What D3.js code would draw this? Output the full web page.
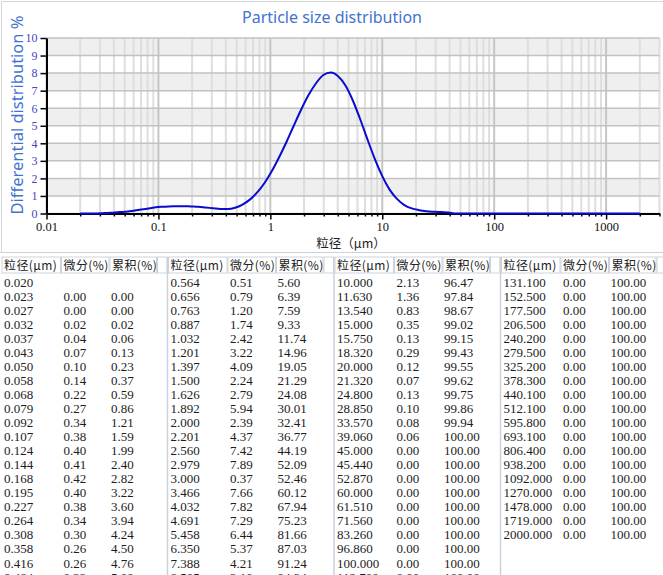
<!DOCTYPE html>
<html>
<head>
<meta charset="utf-8">
<script src="https://cdn.jsdelivr.net/npm/d3@7"></script>
<style>
    body { margin: 0; background: #fff; }
    svg { display: block; }
    .serif { font-family: 'Liberation Serif', 'DejaVu Serif', serif; }
    .cjk { font-family: 'Noto Sans CJK SC', 'Noto Sans', sans-serif; }
    .sans { font-family: 'Noto Sans', 'Open Sans', sans-serif; }
</style>
</head>
<body>
<svg id="chart" width="663" height="575"></svg>
<script>
// curve: standard size classes and their differential %
var curveSize = [0.020, 0.023, 0.027, 0.032, 0.037, 0.043, 0.050, 0.058, 0.068, 0.079,
    0.092, 0.107, 0.124, 0.144, 0.168, 0.195, 0.227, 0.264, 0.308, 0.358,
    0.416, 0.484, 0.564, 0.656, 0.763, 0.887, 1.032, 1.201, 1.397, 1.626,
    1.892, 2.201, 2.560, 2.979, 3.466, 4.032, 4.691, 5.458, 6.350, 7.388,
    8.595, 10.000, 11.630, 13.540, 15.750, 18.320, 21.320, 24.800, 28.850, 33.570,
    39.060, 45.440, 52.870, 61.510, 71.560, 83.260, 96.860, 112.700, 131.100, 152.500,
    177.500, 206.500, 240.200, 279.500, 325.200, 378.300, 440.100, 512.100, 595.800, 693.100,
    806.400, 938.200, 1092, 1270, 1478, 1719, 2000];
var curveDiff = [0, 0, 0, 0.02, 0.04, 0.07, 0.10, 0.14, 0.22, 0.27,
    0.34, 0.38, 0.40, 0.41, 0.42, 0.40, 0.38, 0.34, 0.30, 0.26,
    0.26, 0.33, 0.51, 0.79, 1.20, 1.74, 2.42, 3.22, 4.09, 5.03,
    5.94, 6.76, 7.42, 7.89, 8.03, 7.82, 7.29, 6.44, 5.37, 4.21,
    3.10, 2.13, 1.36, 0.83, 0.48, 0.29, 0.19, 0.13, 0.10, 0.08,
    0.06, 0, 0, 0, 0, 0, 0, 0, 0, 0,
    0, 0, 0, 0, 0, 0, 0, 0, 0, 0,
    0, 0, 0, 0, 0, 0, 0];

var xTicks = [0.01, 0.1, 1, 10, 100, 1000];
var xTickLabels = ['0.01', '0.1', '1', '10', '100', '1000'];
var yTicks = [0, 1, 2, 3, 4, 5, 6, 7, 8, 9, 10];
var headers = ['粒径(μm)', '微分(%)', '累积(%)'];

// table rows
var tableSize = [0.020, 0.023, 0.027, 0.032, 0.037, 0.043, 0.050, 0.058, 0.068, 0.079,
    0.092, 0.107, 0.124, 0.144, 0.168, 0.195, 0.227, 0.264, 0.308, 0.358, 0.416, 0.484,
    0.564, 0.656, 0.763, 0.887, 1.032, 1.201, 1.397, 1.500, 1.626, 1.892,
    2.000, 2.201, 2.560, 2.979, 3.000, 3.466, 4.032, 4.691, 5.458, 6.350, 7.388, 8.595,
    10.000, 11.630, 13.540, 15.000, 15.750, 18.320, 20.000, 21.320, 24.800, 28.850,
    33.570, 39.060, 45.000, 45.440, 52.870, 60.000, 61.510, 71.560, 83.260, 96.860, 100.000, 112.700,
    131.100, 152.500, 177.500, 206.500, 240.200, 279.500, 325.200, 378.300, 440.100, 512.100,
    595.800, 693.100, 806.400, 938.200, 1092.000, 1270.000, 1478.000, 1719.000, 2000.000];
var tableDiff = [null, 0.00, 0.00, 0.02, 0.04, 0.07, 0.10, 0.14, 0.22, 0.27,
    0.34, 0.38, 0.40, 0.41, 0.42, 0.40, 0.38, 0.34, 0.30, 0.26, 0.26, 0.33,
    0.51, 0.79, 1.20, 1.74, 2.42, 3.22, 4.09, 2.24, 2.79, 5.94,
    2.39, 4.37, 7.42, 7.89, 0.37, 7.66, 7.82, 7.29, 6.44, 5.37, 4.21, 3.10,
    2.13, 1.36, 0.83, 0.35, 0.13, 0.29, 0.12, 0.07, 0.13, 0.10,
    0.08, 0.06, 0.00, 0.00, 0.00, 0.00, 0.00, 0.00, 0.00, 0.00, 0.00, 0.00,
    0.00, 0.00, 0.00, 0.00, 0.00, 0.00, 0.00, 0.00, 0.00, 0.00,
    0.00, 0.00, 0.00, 0.00, 0.00, 0.00, 0.00, 0.00, 0.00];
var tableCum = [null, 0.00, 0.00, 0.02, 0.06, 0.13, 0.23, 0.37, 0.59, 0.86,
    1.21, 1.59, 1.99, 2.40, 2.82, 3.22, 3.60, 3.94, 4.24, 4.50, 4.76, 5.09,
    5.60, 6.39, 7.59, 9.33, 11.74, 14.96, 19.05, 21.29, 24.08, 30.01,
    32.41, 36.77, 44.19, 52.09, 52.46, 60.12, 67.94, 75.23, 81.66, 87.03, 91.24, 94.34,
    96.47, 97.84, 98.67, 99.02, 99.15, 99.43, 99.55, 99.62, 99.75, 99.86,
    99.94, 100.00, 100.00, 100.00, 100.00, 100.00, 100.00, 100.00, 100.00, 100.00, 100.00, 100.00,
    100.00, 100.00, 100.00, 100.00, 100.00, 100.00, 100.00, 100.00, 100.00, 100.00,
    100.00, 100.00, 100.00, 100.00, 100.00, 100.00, 100.00, 100.00, 100.00];
var rowsPerGroup = 22;

(function() {
    var svg = d3.select('#chart');
    var blue = '#3f73cf';

    var x = d3.scaleLog().domain([0.01, 3000]).range([46.5, 659.5]);
    var y = d3.scaleLinear().domain([0, 10]).range([213.5, 38]);

    // panel frame
    svg.append('path')
        .attr('d', 'M1.5,252 V1.5 H663')
        .attr('fill', 'none')
        .attr('stroke', '#d6d6d6');

    // title
    svg.append('text')
        .attr('class', 'sans')
        .attr('x', 332).attr('y', 23)
        .attr('text-anchor', 'middle')
        .style('font-size', '16px')
        .attr('fill', blue)
        .text('Particle size distribution');

    // alternating bands
    var plot = svg.append('g');
    plot.selectAll('rect.band')
        .data(yTicks.filter(function(d) { return d % 2 === 1; }))
        .enter().append('rect')
        .attr('class', 'band')
        .attr('x', x.range()[0])
        .attr('width', x.range()[1] - x.range()[0])
        .attr('y', function(d) { return y(d + 1); })
        .attr('height', function(d) { return y(d) - y(d + 1); })
        .attr('fill', '#efefef');

    var minor = x.ticks();
    function isMajor(d) {
        return Math.abs(Math.log10(d) - Math.round(Math.log10(d))) < 1e-6;
    }

    plot.selectAll('line.vgrid')
        .data(minor)
        .enter().append('line')
        .attr('class', 'vgrid')
        .attr('x1', function(d) { return x(d); })
        .attr('x2', function(d) { return x(d); })
        .attr('y1', y(10)).attr('y2', y(0))
        .attr('stroke', function(d) { return isMajor(d) ? '#c6c6c6' : '#dedede'; })
        .attr('stroke-width', 2);

    plot.selectAll('line.hgrid')
        .data(yTicks)
        .enter().append('line')
        .attr('class', 'hgrid')
        .attr('x1', x.range()[0]).attr('x2', x.range()[1])
        .attr('y1', function(d) { return y(d); })
        .attr('y2', function(d) { return y(d); })
        .attr('stroke', '#c2c2c2')
        .attr('stroke-width', 1.5);

    // y axis
    var yAxis = svg.append('g')
        .attr('transform', 'translate(' + x.range()[0] + ',0)')
        .call(d3.axisLeft(y).tickValues(yTicks).tickSize(6).tickSizeOuter(0).tickPadding(3));
    yAxis.attr('font-family', null).attr('font-size', null);
    yAxis.select('.domain').attr('stroke', '#000').attr('stroke-width', 2);
    yAxis.selectAll('.tick line').attr('stroke', '#000').attr('stroke-width', 1.5);
    yAxis.selectAll('.tick text')
        .attr('class', 'serif')
        .style('font-size', '12px')
        .attr('fill', '#4545c4');

    // x axis
    var xAxis = svg.append('g')
        .attr('transform', 'translate(0,' + y(0) + ')')
        .call(d3.axisBottom(x).tickValues(minor).tickSize(3).tickSizeOuter(0).tickPadding(6)
            .tickFormat(function(d) {
                var i = xTicks.indexOf(+d.toPrecision(6));
                return i >= 0 ? xTickLabels[i] : '';
            }));
    xAxis.attr('font-family', null).attr('font-size', null);
    xAxis.select('.domain').attr('stroke', '#000').attr('stroke-width', 2);
    xAxis.selectAll('.tick line')
        .attr('stroke', '#000')
        .attr('stroke-width', 1.5)
        .attr('y2', function(d) { return isMajor(d) ? 6 : 3; });
    xAxis.selectAll('.tick text')
        .attr('class', 'serif')
        .style('font-size', '12.5px')
        .attr('fill', '#111');

    // axis titles
    svg.append('text')
        .attr('class', 'sans')
        .attr('transform', 'translate(23,115) rotate(-90)')
        .attr('text-anchor', 'middle')
        .style('font-size', '16.5px')
        .attr('fill', blue)
        .text('Differential distribution %');

    svg.append('text')
        .attr('class', 'cjk')
        .attr('x', 351).attr('y', 248)
        .attr('text-anchor', 'middle')
        .style('font-size', '12.5px')
        .attr('fill', '#222')
        .text('粒径（μm）');

    // curve
    var pts = curveSize.map(function(s, i) { return [s, curveDiff[i]]; });
    var line = d3.line()
        .x(function(d) { return x(d[0]); })
        .y(function(d) { return y(d[1]); })
        .curve(d3.curveMonotoneX);
    svg.append('path')
        .datum(pts)
        .attr('d', line)
        .attr('fill', 'none')
        .attr('stroke', '#0a0ad0')
        .attr('stroke-width', 2);

    // ---- table ----
    var tableTop = 252.5;
    var groupW = 166.5;
    var cellX = [0, 59.5, 108, 155.5, 166];
    var lineCol = '#c9d2de';

    svg.append('line')
        .attr('x1', 0).attr('x2', 663)
        .attr('y1', tableTop).attr('y2', tableTop)
        .attr('stroke', lineCol);

    var groups = [];
    for (var g = 0; g * rowsPerGroup < tableSize.length; g++) {
        var rows = [];
        for (var r = g * rowsPerGroup; r < Math.min(tableSize.length, (g + 1) * rowsPerGroup); r++) {
            rows.push({ size: tableSize[r], diff: tableDiff[r], cum: tableCum[r] });
        }
        groups.push({ index: g, rows: rows });
    }

    var grp = svg.selectAll('g.group')
        .data(groups)
        .enter().append('g')
        .attr('class', 'group')
        .attr('transform', function(d) { return 'translate(' + (1.5 + d.index * groupW) + ',0)'; });

    // header cells
    grp.selectAll('rect.hcell')
        .data([0, 1, 2, 3])
        .enter().append('rect')
        .attr('class', 'hcell')
        .attr('x', function(i) { return cellX[i] + 0.5; })
        .attr('y', 257)
        .attr('width', function(i) { return cellX[i + 1] - cellX[i] - 1; })
        .attr('height', 16)
        .attr('fill', '#fff')
        .attr('stroke', '#cdd3db');

    grp.selectAll('text.htext')
        .data(headers)
        .enter().append('text')
        .attr('class', 'cjk')
        .attr('x', function(d, i) { return cellX[i] + 2.5; })
        .attr('y', 269.5)
        .style('font-size', '12px')
        .style('letter-spacing', '0.4px')
        .attr('fill', '#222')
        .text(function(d) { return d; });

    // group separator
    grp.append('line')
        .attr('x1', 166).attr('x2', 166)
        .attr('y1', 257).attr('y2', 575)
        .attr('stroke', lineCol)
        .attr('stroke-width', 1.5);

    var textX = [2.5, 62, 109.5];
    grp.each(function(d) {
        var gsel = d3.select(this);
        var row = gsel.selectAll('g.row')
            .data(d.rows)
            .enter().append('g')
            .attr('class', 'row')
            .attr('transform', function(r, i) { return 'translate(0,' + (286.7 + i * 14.04) + ')'; });
        row.selectAll('text')
            .data(function(r) {
                return [r.size.toFixed(3),
                        r.diff === null ? '' : r.diff.toFixed(2),
                        r.cum === null ? '' : r.cum.toFixed(2)];
            })
            .enter().append('text')
            .attr('class', 'serif')
            .attr('x', function(t, i) { return textX[i]; })
            .style('font-size', '13px')
            .attr('fill', '#1c1c1c')
            .text(function(t) { return t; });
    });
})();
</script>
</body>
</html>
